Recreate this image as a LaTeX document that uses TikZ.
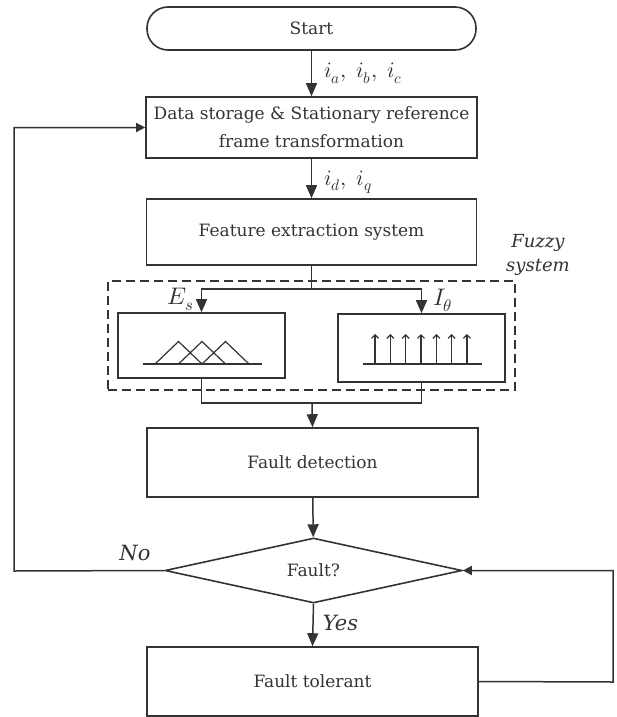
\documentclass[tikz,border=0pt]{standalone}
\usepackage{fontspec}
\usepackage{unicode-math}
\setmainfont{DejaVu Serif}
\setmathfont{Latin Modern Math}
\usetikzlibrary{arrows.meta,shapes.geometric}
\definecolor{ink}{gray}{0.2}
\tikzset{
  box/.style={draw=ink, line width=1.6pt, rectangle, inner sep=0pt,
    font=\fontsize{17}{21}\selectfont, text=ink, align=center},
  flow/.style={draw=ink, line width=1.5pt, -{Triangle[length=13pt,width=11pt]}},
  loopflow/.style={draw=ink, line width=1.5pt, -{Triangle[length=9pt,width=9pt]}},
  plain/.style={draw=ink, line width=1.5pt},
  sig/.style={text=ink, font=\fontsize{22}{24}\selectfont, inner sep=0pt},
  tag/.style={text=ink, font=\fontsize{21}{24}\selectfont\itshape, inner sep=0pt},
  memb/.style={draw=ink, line width=1.2pt},
  spike/.style={draw=ink, line width=1.2pt, -{Straight Barb[length=3.5pt,width=7pt]}}
}
\begin{document}
\begin{tikzpicture}[x=1pt,y=-1pt]
\useasboundingbox (0,0) rectangle (617,717);

% main blocks
\node[box, rounded corners=21pt, minimum width=329pt, minimum height=43pt] (start) at (311.5,28.5) {Start};
\node[box, minimum width=331pt, minimum height=61pt, font=\fontsize{17}{28}\selectfont] (data) at (311.5,127.5)
  {Data storage \& Stationary reference\\frame transformation};
\node[box, minimum width=330pt, minimum height=66pt] (feat) at (311.5,232) {Feature extraction system};

% fuzzy system
\node[draw=ink, line width=1.5pt, dash pattern=on 9pt off 5pt, rectangle, inner sep=0pt,
  minimum width=407pt, minimum height=109pt] (fuzzy) at (311.5,335.5) {};
\node[box, minimum width=167pt, minimum height=65pt] (lbox) at (201.5,345.5) {};
\node[box, minimum width=167pt, minimum height=68pt] (rbox) at (421.5,348) {};
\node[text=ink, font=\fontsize{18}{24}\selectfont\itshape, align=center] (fuzzylbl) at (538,255) {Fuzzy\\system};

\node[box, minimum width=331pt, minimum height=69pt] (fdet) at (312.5,462.5) {Fault detection};
\node[box, shape=diamond, shape aspect=4.57, minimum width=297pt, minimum height=65pt] (dec) at (313.5,570.5) {Fault?};
\node[box, minimum width=331pt, minimum height=69pt] (tol) at (312.5,681.5) {Fault tolerant};

% membership functions
\draw[memb] (143,364) -- (262,364);
\foreach \a in {155,178.5,202}
  \draw[memb] (\a,364) -- ++(23.5,-22.5) -- ++(23.5,22.5);
% singletons
\draw[memb] (363,364) -- (482,364);
\foreach \k in {0,...,6}
  \draw[spike] (375+15.33*\k,364) -- ++(0,-30);

% junction points
\coordinate (split) at (311.5,289);
\coordinate (merge) at (312,403);
\coordinate (noturn) at (14,571);
\coordinate (yesturn) at (613,682);

% connectors
\draw[flow] (start) -- (data) node[pos=0.5, right=12pt, sig] (iabc) {$i_a,\; i_b,\; i_c$};
\draw[flow] (data) -- (feat) node[pos=0.6, right=12pt, sig] (idq) {$i_d,\; i_q$};
\draw[plain] (feat.south) -- (split);
\draw[flow] (split) -| (lbox.north);
\draw[flow] (split) -| (rbox.north);
\draw[plain] (lbox.south) |- (merge) -| (rbox.south);
\draw[flow] (merge) -- (fdet.north);
\draw[flow] (fdet) -- (dec);
\draw[loopflow] (dec.west) -- (noturn) |- (data.west);
\draw[flow] (dec.south) -- (tol.north) node[pos=0.45, right=9pt, tag] (yes) {Yes};
\draw[loopflow] (tol.east) -- (yesturn) |- (dec.east);

% signal labels
\node[sig, anchor=east, font=\fontsize{24}{26}\selectfont] (es) at (194,299) {$E_s$};
\node[sig, anchor=west, font=\fontsize{24}{26}\selectfont] (ith) at (433,300) {$I_\theta$};
\node[tag, anchor=center] (no) at (135,553) {No};
\end{tikzpicture}
\end{document}
